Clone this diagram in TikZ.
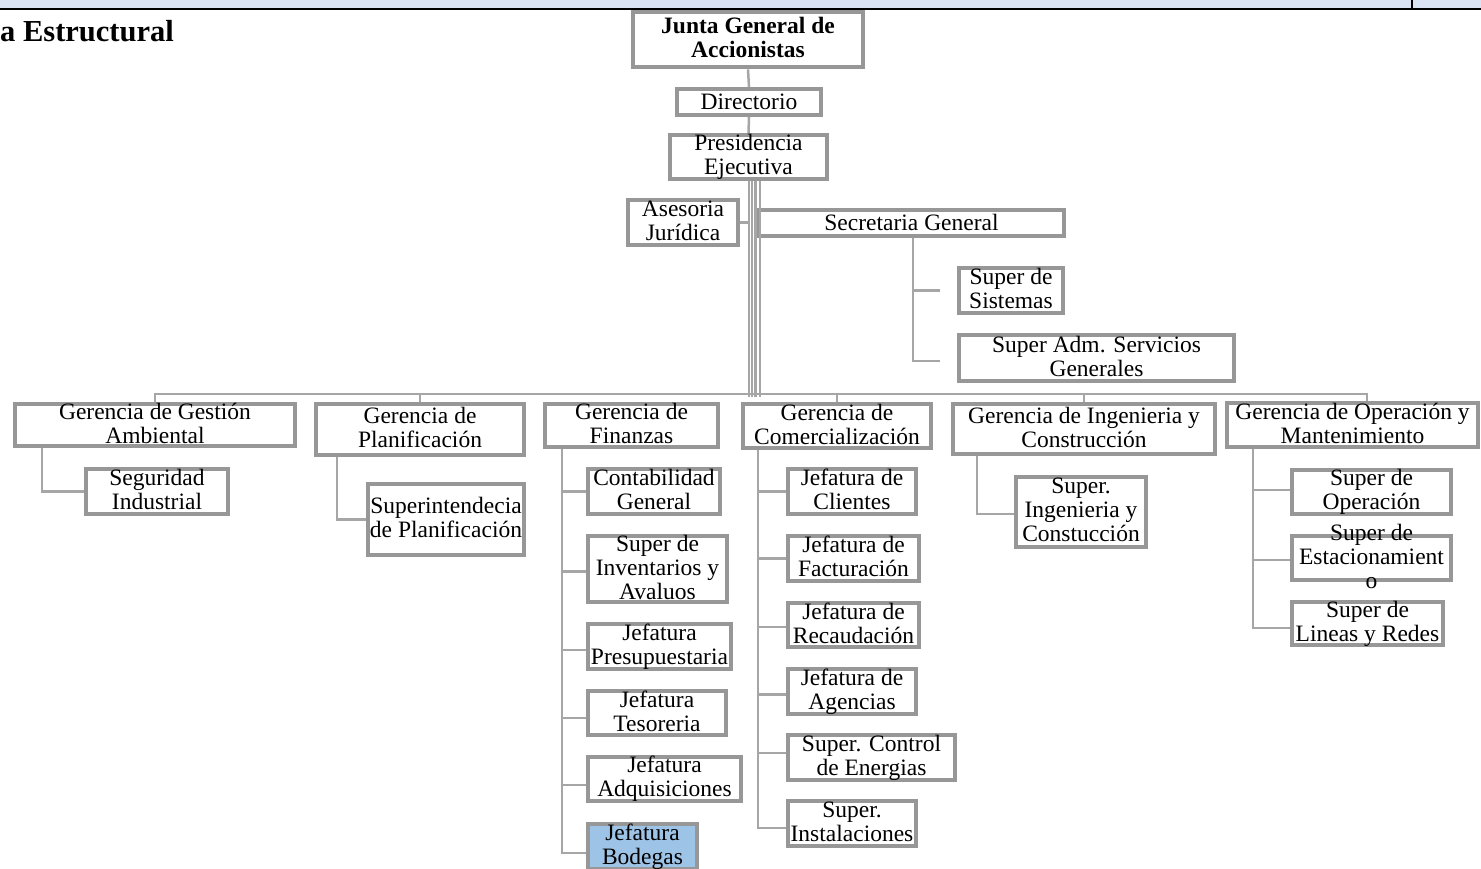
\documentclass[tikz,border=0pt]{standalone}
\usepackage{fontspec}
\setmainfont{Liberation Serif}
\usetikzlibrary{calc}
\definecolor{bordergray}{HTML}{979797}
\definecolor{linegray}{HTML}{A6A6A6}
\definecolor{bandblue}{HTML}{DAE3F3}
\definecolor{boxblue}{HTML}{9DC3E6}
\tikzset{
  orgframe/.style={draw=bordergray, line width=3.7pt, fill=white, inner sep=0pt, rectangle},
  orgtext/.style={inner sep=0pt, align=center, font=\fontsize{23.5}{24}\selectfont,
    execute at begin node={\rule{0pt}{20pt}}, execute at end node={\rule[-4pt]{0pt}{4pt}}},
  conn/.style={draw=linegray, line width=2.5pt},
}
% #1 extra frame style, #2 name, #3 left, #4 top, #5 right, #6 bottom, #7 text
\newcommand\orgbox[7][]{%
  \node[orgframe,#1,minimum width={(#5-#3-3.7)*1pt},minimum height={(#6-#4-3.7)*1pt}]
    (#2) at ({(#3+#5)/2},{(#4+#6)/2}) {};
  \node[orgtext] (#2-t) at (#2.center) {#7};}
\begin{document}
\begin{tikzpicture}[x=1pt,y=-1pt]
\useasboundingbox (0,0) rectangle (1481,869);
% top band
\fill[bandblue] (0,0) rectangle (1481,8);
\draw[black, line width=2pt] (0,9) -- (1481,9);
\draw[black, line width=1.5pt] (1412,0) -- (1412,8);
\node[anchor=west, inner sep=0pt, font=\fontsize{30.5}{32}\selectfont\bfseries] (title) at (0,31) {a Estructural};
% boxes
\orgbox[line width=4.5pt]{junta}{631}{10}{865}{69}{\textbf{Junta General de}\\\textbf{Accionistas}}
\orgbox{dir}{675}{87}{823}{117}{Directorio}
\orgbox{pres}{668}{133}{829}{181}{Presidencia\\Ejecutiva}
\orgbox{ases}{626}{198}{740}{247}{Asesoria\\Jurídica}
\orgbox{sec}{757}{208}{1066}{238}{Secretaria General}
\orgbox{sis}{957}{266}{1065}{315}{Super de\\Sistemas}
\orgbox{adm}{957}{333}{1236}{383}{Super Adm. Servicios\\Generales}
\orgbox{ges}{13}{402}{297}{448}{Gerencia de Gestión\\Ambiental}
\orgbox{plan}{314}{402}{526}{457}{Gerencia de\\Planificación}
\orgbox{fin}{543}{402}{720}{449}{Gerencia de\\Finanzas}
\orgbox{com}{741}{402}{933}{450}{Gerencia de\\Comercialización}
\orgbox{ing}{951}{402}{1217}{456}{Gerencia de Ingenieria y\\Construcción}
\orgbox{op}{1225}{401}{1480}{449}{Gerencia de Operación y\\Mantenimiento}
\orgbox{seg}{84}{467}{230}{516}{Seguridad\\Industrial}
\orgbox{supl}{366}{482}{526}{557}{Superintendecia\\de Planificación}
\orgbox{contab}{586}{467}{722}{516}{Contabilidad\\General}
\orgbox{inv}{586}{534}{729}{604}{Super de\\Inventarios y\\Avaluos}
\orgbox{presu}{586}{622}{733}{671}{Jefatura\\Presupuestaria}
\orgbox{tes}{586}{689}{728}{737}{Jefatura\\Tesoreria}
\orgbox{adq}{586}{755}{743}{803}{Jefatura\\Adquisiciones}
\orgbox[fill=boxblue]{bod}{586}{822}{699}{871}{Jefatura\\Bodegas}
\orgbox{cli}{786}{467}{918}{516}{Jefatura de\\Clientes}
\orgbox{fac}{786}{534}{921}{583}{Jefatura de\\Facturación}
\orgbox{rec}{786}{601}{921}{649}{Jefatura de\\Recaudación}
\orgbox{age}{786}{667}{918}{716}{Jefatura de\\Agencias}
\orgbox{con}{786}{733}{957}{782}{Super. Control\\de Energias}
\orgbox{ins}{786}{799}{918}{848}{Super.\\Instalaciones}
\orgbox{sing}{1014}{475}{1148}{549}{Super.\\Ingenieria y\\Constucción}
\orgbox{sop}{1290}{468}{1453}{516}{Super de\\Operación}
\orgbox{sest}{1290}{534}{1453}{582}{Super de\\Estacionamient\\o}
\orgbox{slin}{1290}{600}{1445}{647}{Super de\\Lineas y Redes}
% connectors
\draw[conn] (junta.south) -- (dir.north);
\draw[conn] (dir.south) -- (pres.north);
\foreach \dx in {0.5,3.5,7,11.5}
  \draw[conn, line width=2.2pt] ([xshift=\dx pt]pres.south) -- ++(0,216);
\draw[conn] (ases.east) -- ++(10,0);
\draw[conn] ([xshift=1.5pt]sec.south) |- ([xshift=-17pt]sis.west);
\draw[conn] ([xshift=1.5pt]sec.south) |- ([xshift=-17pt,yshift=-3pt]adm.west);
% bus
\draw[conn] (ges.north) -- ++(0,-8) -| ([xshift=14.5pt]op.north);
\draw[conn] (plan.north) -- ++(0,-8);
\draw[conn] (com.north) -- ++(0,-8);
\draw[conn] (ing.north) -- ++(0,-8);
% children
\draw[conn] ([xshift=-113pt]ges.south) |- (seg.west);
\draw[conn] ([xshift=-83pt]plan.south) |- (supl.west);
\foreach \n/\s in {contab/0, inv/-2.5, presu/-3.5, tes/-5, adq/-6, bod/-6.5}
  \draw[conn] ([xshift=-69.5pt]fin.south) |- ([yshift=\s pt]\n.west);
\foreach \n/\s in {cli/0, fac/0, rec/-2, age/-3, con/4.5, ins/-4.5}
  \draw[conn] ([xshift=-79pt]com.south) |- ([yshift=\s pt]\n.west);
\draw[conn] ([xshift=-107pt]ing.south) |- ([yshift=-2pt]sing.west);
\foreach \n/\s in {sop/2, sest/-2, slin/-4.5}
  \draw[conn] ([xshift=-99.5pt]op.south) |- ([yshift=\s pt]\n.west);
\end{tikzpicture}
\end{document}
